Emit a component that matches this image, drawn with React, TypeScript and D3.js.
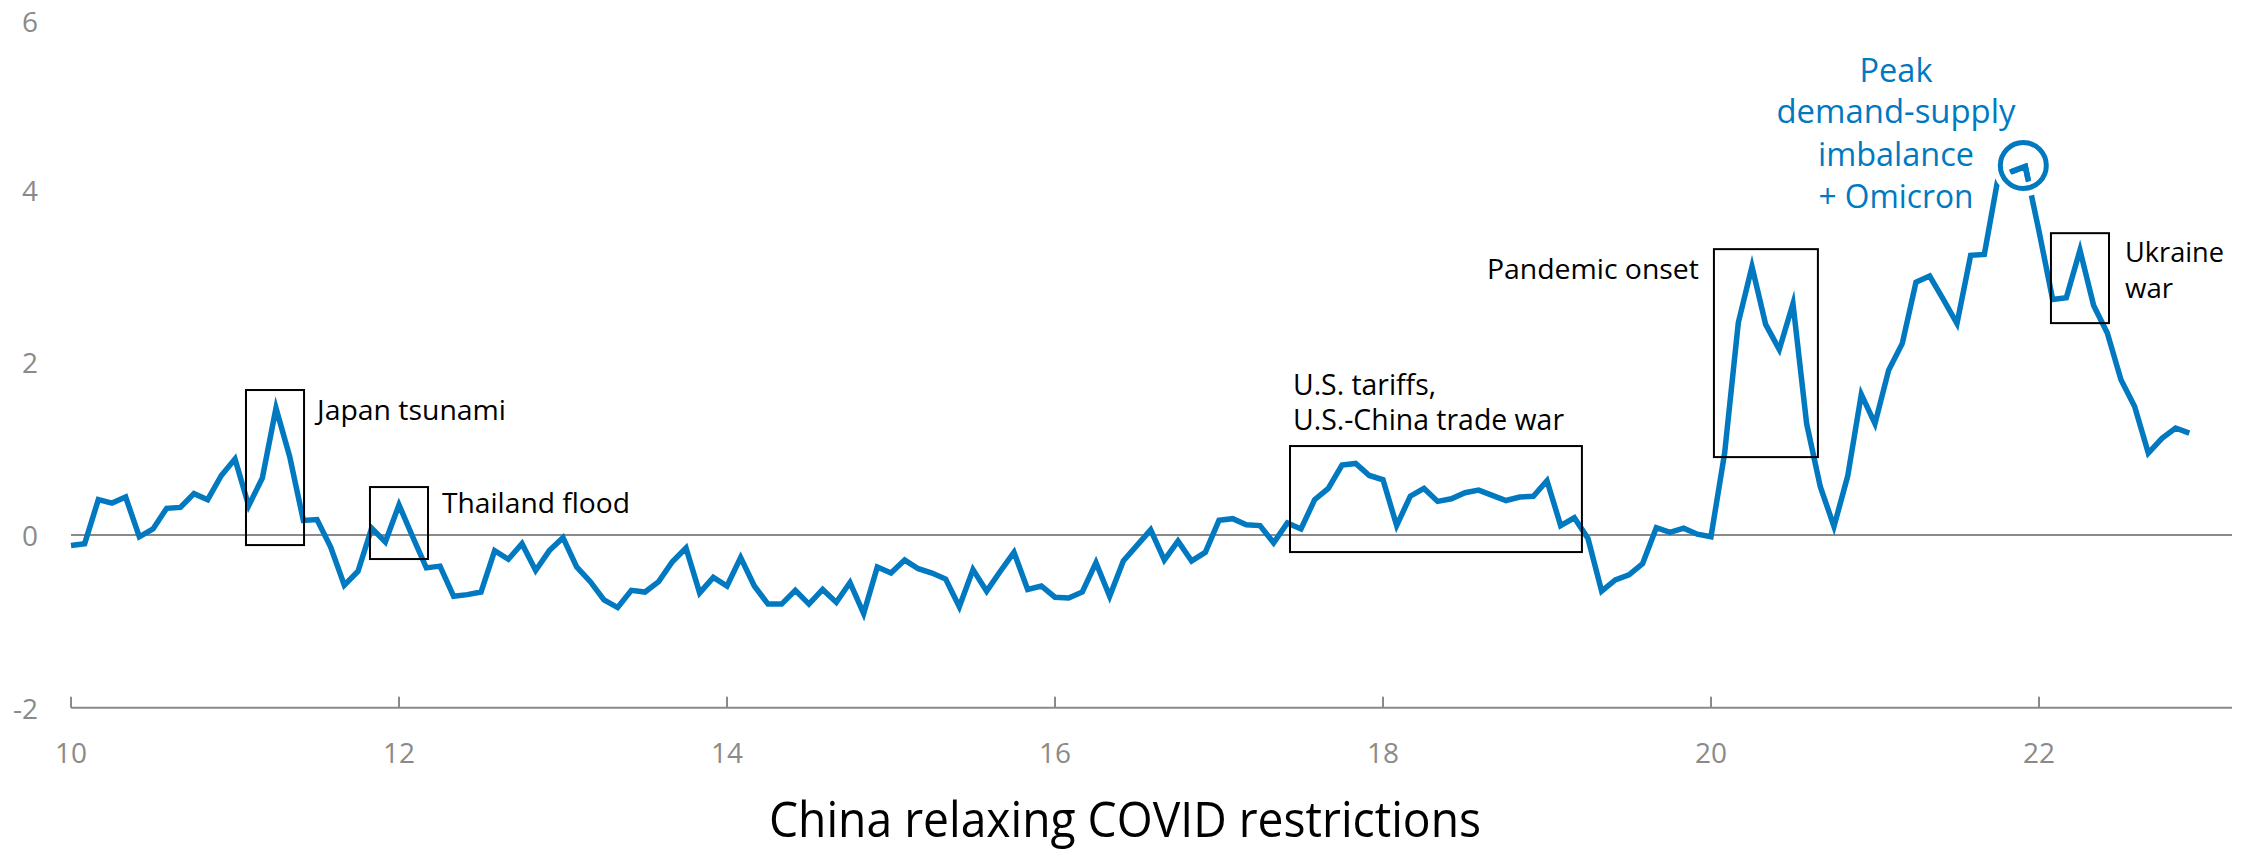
import React from 'react';
import * as d3 from 'd3';

// Monthly index values, one array per year (Jan..Dec)
const y2010 = [-0.12, -0.10, 0.41, 0.37, 0.44, -0.02, 0.07, 0.31, 0.32, 0.48, 0.41, 0.69];
const y2011 = [0.88, 0.34, 0.66, 1.47, 0.91, 0.17, 0.18, -0.14, -0.58, -0.42, 0.08, -0.08];
const y2012 = [0.35, -0.02, -0.38, -0.36, -0.71, -0.69, -0.66, -0.18, -0.28, -0.10, -0.41, -0.18];
const y2013 = [-0.03, -0.37, -0.54, -0.75, -0.84, -0.64, -0.66, -0.54, -0.31, -0.15, -0.67, -0.49];
const y2014 = [-0.59, -0.26, -0.59, -0.80, -0.80, -0.64, -0.80, -0.63, -0.78, -0.55, -0.91, -0.37];
const y2015 = [-0.44, -0.29, -0.39, -0.44, -0.51, -0.83, -0.40, -0.65, -0.42, -0.20, -0.63, -0.59];
const y2016 = [-0.72, -0.73, -0.66, -0.32, -0.71, -0.30, -0.12, 0.06, -0.29, -0.07, -0.30, -0.20];
const y2017 = [0.17, 0.19, 0.12, 0.11, -0.09, 0.14, 0.07, 0.41, 0.54, 0.81, 0.83, 0.69];
const y2018 = [0.64, 0.11, 0.45, 0.54, 0.39, 0.42, 0.49, 0.52, 0.46, 0.40, 0.44, 0.45];
const y2019 = [0.63, 0.11, 0.20, -0.04, -0.65, -0.52, -0.46, -0.33, 0.085, 0.03, 0.08, 0.01];
const y2020 = [-0.02, 0.95, 2.46, 3.11, 2.44, 2.15, 2.68, 1.29, 0.56, 0.10, 0.68, 1.63];
const y2021 = [1.29, 1.91, 2.22, 2.93, 3.00, 2.73, 2.45, 3.24, 3.25, 4.13, 4.21, 4.27];
const y2022 = [3.52, 2.73, 2.75, 3.30, 2.66, 2.34, 1.80, 1.49, 0.95, 1.12, 1.24, 1.18];

const years = [10, 11, 12, 13, 14, 15, 16, 17, 18, 19, 20, 21, 22];
const yearly = [y2010, y2011, y2012, y2013, y2014, y2015, y2016, y2017, y2018, y2019, y2020, y2021, y2022];

const xTicks = [10, 12, 14, 16, 18, 20, 22];
const yTicks = [-2, 0, 2, 4, 6];

// Event windows: [start, end] in years, [low, high] in index units
const eventBoxes = [
  { name: 'Japan tsunami', x0: 11.067, x1: 11.421, v0: -0.116, v1: 1.68 },
  { name: 'Thailand flood', x0: 11.823, x1: 12.177, v0: -0.278, v1: 0.556 },
  { name: 'Trade war', x0: 17.433, x1: 19.213, v0: -0.197, v1: 1.031 },
  { name: 'Pandemic onset', x0: 20.018, x1: 20.652, v0: 0.903, v1: 3.312 },
  { name: 'Ukraine war', x0: 22.073, x1: 22.427, v0: 2.455, v1: 3.497 },
];

// Peak month (Dec 2021)
const peakYear = 21;
const peakMonth = 11;

type Pt = { t: number; v: number };
const series: Pt[] = yearly.flatMap((vals, yi) =>
  vals.map((v, m) => ({ t: years[yi] + m / 12, v }))
);

const W = 2255;
const H = 853;
const BLUE = '#0079c1';
const GREY = '#8a8a8a';
const FONT = "'Open Sans', 'Noto Sans', sans-serif";

export default function App() {
  const x = d3.scaleLinear().domain([10, 23.177]).range([71, 2232]);
  const y = d3.scaleLinear().domain([-2, 6]).range([707.7, 17.1]);

  const line = d3
    .line<Pt>()
    .x((d) => x(d.t))
    .y((d) => y(d.v));

  const peak = series.find(
    (d) => Math.abs(d.t - (peakYear + peakMonth / 12)) < 1e-6
  ) as Pt;
  const px = x(peak.t) - 2;
  const py = y(peak.v) - 1;

  const box = (name: string) => eventBoxes.find((b) => b.name === name)!;
  const jp = box('Japan tsunami');
  const th = box('Thailand flood');
  const tw = box('Trade war');
  const pd = box('Pandemic onset');
  const uk = box('Ukraine war');

  const label = {
    fontFamily: FONT,
    fontSize: 28,
    fill: '#000',
  } as const;

  return (
    <svg
      width={W}
      height={H}
      viewBox={`0 0 ${W} ${H}`}
      style={{ position: 'absolute', left: 0, top: 0, display: 'block', background: '#fff' }}
    >
      {/* zero reference line */}
      <line x1={x(10)} x2={x(23.177)} y1={y(0)} y2={y(0)} stroke={GREY} strokeWidth={2} />

      {/* bottom axis with upward ticks */}
      <line x1={x(10)} x2={x(23.177)} y1={y(-2)} y2={y(-2)} stroke={GREY} strokeWidth={2} />
      {xTicks.map((t) => (
        <g key={t}>
          <line x1={x(t)} x2={x(t)} y1={y(-2)} y2={y(-2) - 11} stroke={GREY} strokeWidth={2} />
          <text
            x={x(t)}
            y={763}
            textAnchor="middle"
            fontFamily={FONT}
            fontSize={28}
            fill={GREY}
          >
            {t}
          </text>
        </g>
      ))}

      {yTicks.map((v) => (
        <text
          key={v}
          x={38}
          y={Math.max(y(v) + 11, 32)}
          textAnchor="end"
          fontFamily={FONT}
          fontSize={28}
          fill={GREY}
        >
          {v}
        </text>
      ))}

      {/* main series */}
      <path
        d={line(series) || ''}
        fill="none"
        stroke={BLUE}
        strokeWidth={5.5}
        strokeLinejoin="miter"
        strokeMiterlimit={6}
      />

      {/* event windows */}
      {eventBoxes.map((b) => (
        <rect
          key={b.name}
          x={x(b.x0)}
          y={y(b.v1)}
          width={x(b.x1) - x(b.x0)}
          height={y(b.v0) - y(b.v1)}
          fill="none"
          stroke="#000"
          strokeWidth={2}
        />
      ))}

      {/* peak marker */}
      <circle cx={px} cy={py} r={23} fill="none" stroke="#fff" strokeWidth={16} />
      <path
        d={line(series.filter((d) => Math.abs(d.t - peak.t) < 0.1)) || ''}
        fill="none"
        stroke={BLUE}
        strokeWidth={5.5}
        clipPath="url(#peakClip)"
      />
      <defs>
        <clipPath id="peakClip">
          <circle cx={px} cy={py} r={17} />
        </clipPath>
      </defs>
      <circle cx={px} cy={py} r={23} fill="none" stroke={BLUE} strokeWidth={5} />

      {/* annotations */}
      <text {...label} x={x(jp.x1) + 13} y={420} textLength={189} lengthAdjust="spacingAndGlyphs">
        Japan tsunami
      </text>
      <text {...label} x={x(th.x1) + 14} y={513} textLength={188} lengthAdjust="spacingAndGlyphs">
        Thailand flood
      </text>
      <text {...label} fontSize={29} x={x(tw.x0) + 3} y={395} textLength={143} lengthAdjust="spacingAndGlyphs">
        U.S. tariffs,
      </text>
      <text {...label} fontSize={29} x={x(tw.x0) + 3} y={430} textLength={271} lengthAdjust="spacingAndGlyphs">
        U.S.-China trade war
      </text>
      <text {...label} x={x(pd.x0) - 15} y={279} textAnchor="end" textLength={212} lengthAdjust="spacingAndGlyphs">
        Pandemic onset
      </text>
      <text {...label} x={x(uk.x1) + 16} y={262} textLength={99} lengthAdjust="spacingAndGlyphs">
        Ukraine
      </text>
      <text {...label} x={x(uk.x1) + 16} y={298} textLength={48} lengthAdjust="spacingAndGlyphs">
        war
      </text>

      <g fontFamily={FONT} fontSize={32} fill={BLUE} textAnchor="middle">
        <text x={1896} y={82} textLength={73} lengthAdjust="spacingAndGlyphs">Peak</text>
        <text x={1896} y={123} textLength={239} lengthAdjust="spacingAndGlyphs">demand-supply</text>
        <text x={1896} y={166} textLength={156} lengthAdjust="spacingAndGlyphs">imbalance</text>
        <text x={1896} y={208} textLength={155} lengthAdjust="spacingAndGlyphs">+ Omicron</text>
      </g>

      {/* caption along the bottom */}
      <text
        x={769}
        y={837}
        fontFamily={FONT}
        fontSize={50}
        fill="#000"
        textLength={712}
        lengthAdjust="spacingAndGlyphs"
      >
        China relaxing COVID restrictions
      </text>
    </svg>
  );
}
